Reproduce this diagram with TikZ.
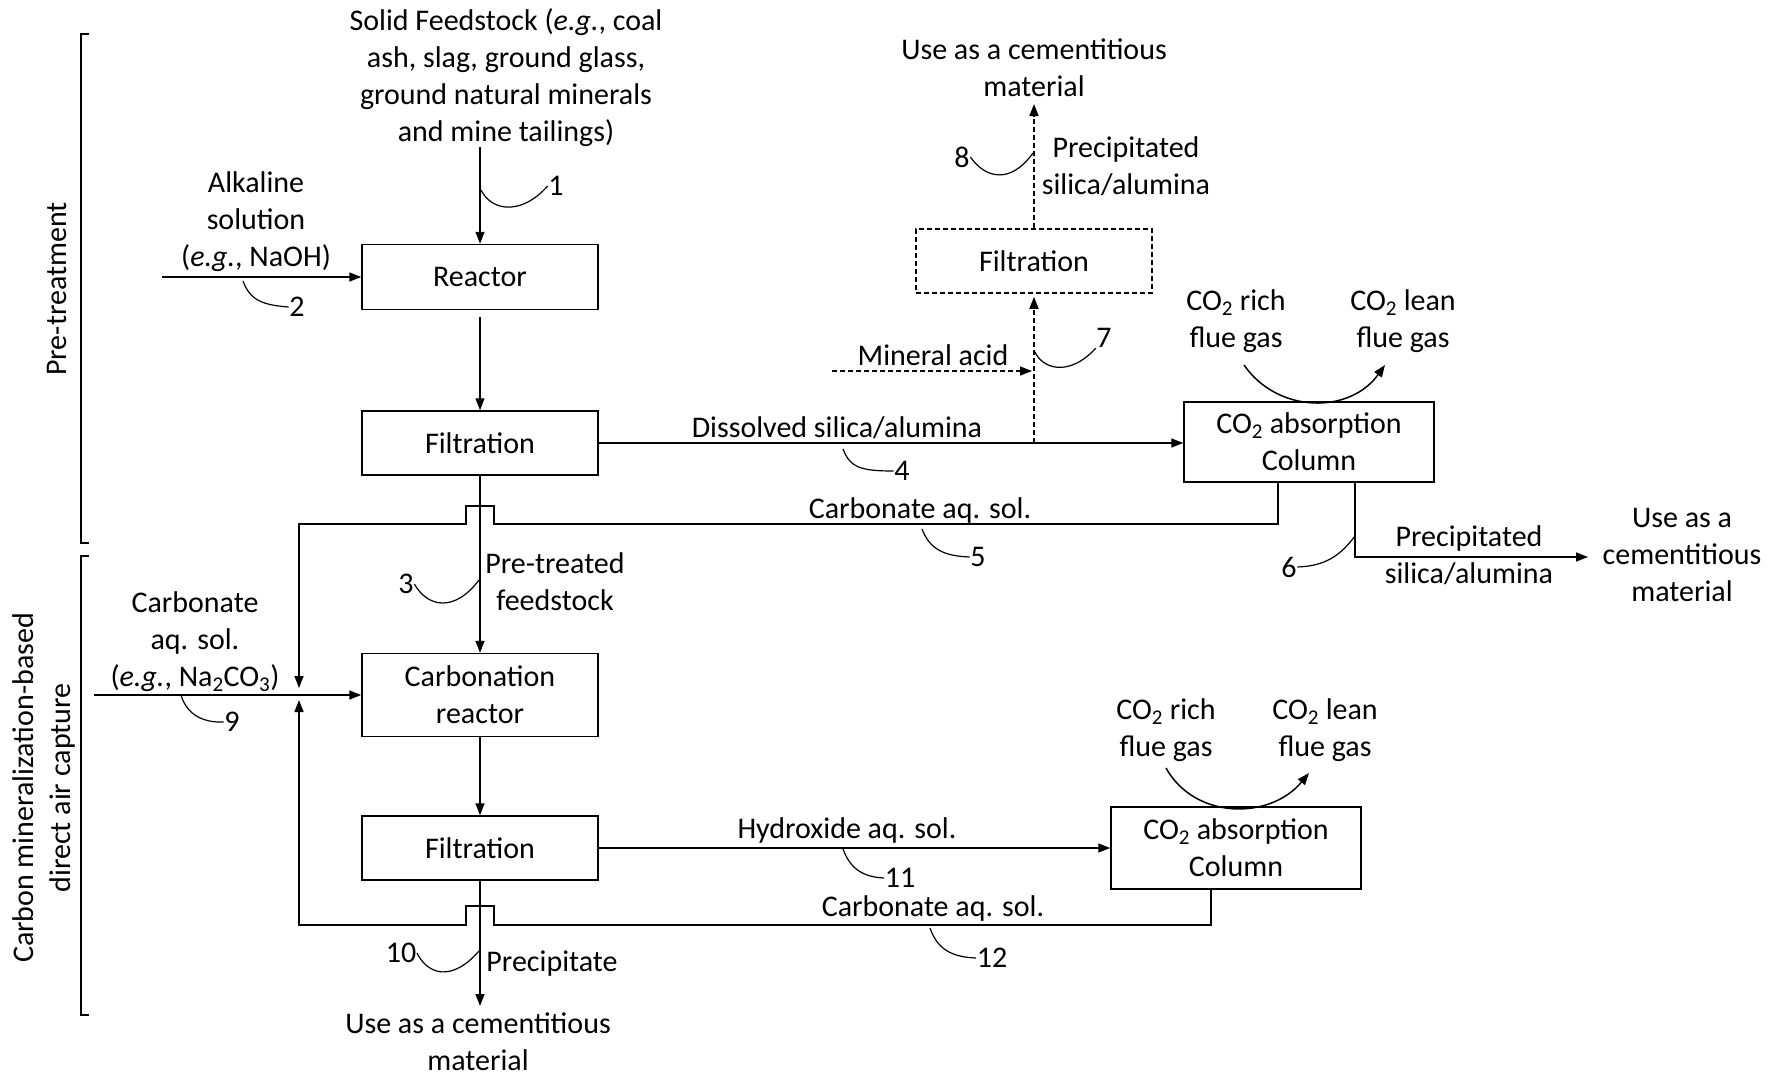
\documentclass[tikz,border=0pt]{standalone}
\usepackage{fontspec}
\setmainfont{Carlito}
\usetikzlibrary{arrows.meta,calc}
\begin{document}
\begin{tikzpicture}[x=1pt,y=-1pt, line width=1.5pt,
  every node/.style={font=\fontsize{30}{37}\selectfont},
  box/.style={draw, minimum width=236pt, inner sep=0pt, align=center},
  txt/.style={align=center, inner sep=0pt},
  num/.style={inner sep=0pt},
  arr/.style={-{Triangle[length=12pt,width=9pt]}},
  dashline/.style={dash pattern=on 5pt off 3pt},
  call/.style={line width=1.2pt}]
\useasboundingbox (0,0) rectangle (1775,1079);

% brackets and side labels
\draw (89,34) -- (81,34) -- (81,543) -- (89,543);
\draw (89,556) -- (81,556) -- (81,1015) -- (89,1015);
\node[txt, rotate=90] (pre) at (57,289) {Pre-treatment};
\node[txt, rotate=90] (cmb) at (44,788) {Carbon mineralization-based\\direct air capture};

% boxes
\node[box, minimum height=65pt] (reactor) at (480,277) {Reactor};
\node[box, minimum height=64pt] (filt1) at (480,443) {Filtration};
\node[box, minimum height=83pt] (carb) at (480,695) {Carbonation\\reactor};
\node[box, minimum height=64pt] (filt2) at (480,848) {Filtration};
\node[box, dashline, minimum height=64pt] (filt3) at (1034,261) {Filtration};
\node[box, minimum width=250pt, minimum height=80pt] (col1) at (1309,442) {CO\textsubscript{2} absorption\\Column};
\node[box, minimum width=250pt, minimum height=82pt] (col2) at (1236,848) {CO\textsubscript{2} absorption\\Column};

% texts
\node[txt] (feed) at (506,78) {Solid Feedstock (\textit{e.g.}, coal\\ash, slag, ground glass,\\ground natural minerals\\and mine tailings)};
\node[txt] (alk) at (256,222) {Alkaline\\solution\\(\textit{e.g.}, NaOH)};
\node[txt] (carbin) at (195,642) {Carbonate\\aq. sol.\\(\textit{e.g.}, Na\textsubscript{2}CO\textsubscript{3})};
\node[txt] (ptf) at (555,582) {Pre-treated\\feedstock};
\node[txt] (ppt) at (552,964) {Precipitate};
\node[txt] (usebot) at (478,1042) {Use as a cementitious\\material};
\node[txt] (usetop) at (1034,68) {Use as a cementitious\\material};
\node[txt] (pstop) at (1126,166) {Precipitated\\silica/alumina};
\node[txt] (macid) at (933,355) {Mineral acid};
\node[txt] (dsa) at (837,428) {Dissolved silica/alumina};
\node[txt] (rich1) at (1236,321) {CO\textsubscript{2} rich\\flue gas};
\node[txt] (lean1) at (1403,321) {CO\textsubscript{2} lean\\flue gas};
\node[txt] (cas1) at (920,510) {Carbonate aq. sol.};
\node[txt] (psr) at (1469,555) {Precipitated\\silica/alumina};
\node[txt] (user) at (1682,555) {Use as a\\cementitious\\material};
\node[txt] (hyd) at (847,830) {Hydroxide aq. sol.};
\node[txt] (cas2) at (933,908) {Carbonate aq. sol.};
\node[txt] (rich2) at (1166,730) {CO\textsubscript{2} rich\\flue gas};
\node[txt] (lean2) at (1325,730) {CO\textsubscript{2} lean\\flue gas};

% numbers
\node[num] (n1) at (556,186) {1};
\node[num] (n2) at (297,307) {2};
\node[num] (n3) at (406,584) {3};
\node[num] (n4) at (902,471) {4};
\node[num] (n5) at (978,557) {5};
\node[num] (n6) at (1289,567) {6};
\node[num] (n7) at (1104,338) {7};
\node[num] (n8) at (962,157) {8};
\node[num] (n9) at (232,722) {9};
\node[num] (n10) at (401,953) {10};
\node[num] (n11) at (900,878) {11};
\node[num] (n12) at (992,958) {12};

% connectors
\coordinate (feedend) at (480,147);
\draw[arr] (feedend) -- (reactor.north);
\coordinate (alkstart) at (162,277);
\draw[arr] (alkstart) -- (reactor.west);
\draw[arr, shorten <=7pt] (reactor.south) -- (filt1.north);
\draw[arr] (filt1.east) -- (filt1.east -| col1.west);
\coordinate (j7) at (filt3.south |- filt1.east);
\draw[arr, dashline, shorten >=3pt] (j7) -- (filt3.south);
\coordinate (acid) at (832,371);
\draw[arr, dashline, shorten >=2pt] (acid) -- (acid -| j7);
\coordinate (use8) at (1034,104);
\draw[arr, dashline] (filt3.north) -- (use8);

\coordinate (r1) at (1244,365);
\coordinate (l1) at (1385,365);
\draw[arr] (r1) .. controls (1278,414) and (1350,414) .. (l1);
\coordinate (r2) at (1166,768);
\coordinate (l2) at (1309,773);
\draw[arr] (r2) .. controls (1195,820) and (1270,820) .. (l2);

\coordinate (c5) at (1278,524);
\draw[arr] (c5 |- col1.south) -- (c5) -- (494,524) -- (494,506) -- (466,506) -- (466,524) -- (299,524) -- (299,688);
\coordinate (c6) at (1355,557);
\draw[arr] (c6 |- col1.south) -- (c6) -- (1588,557);

\draw[arr] (filt1.south) -- (carb.north);
\coordinate (in9) at (94,695);
\draw[arr] (in9) -- (carb.west);
\draw[arr] (carb.south) -- (filt2.north);
\draw[arr] (filt2.east) -- (filt2.east -| col2.west);
\coordinate (c12) at (1211,925);
\draw[arr] (c12 |- col2.south) -- (c12) -- (494,925) -- (494,906) -- (466,906) -- (466,925) -- (299,925) -- (299,700);
\coordinate (out10) at (480,1006);
\draw[arr] (filt2.south) -- (out10);

% callout leaders
\draw[call] (481,190) .. controls (492,212) and (522,215) .. (n1.west);
\draw[call] (243,281) .. controls (250,300) and (262,305) .. (n2.west);
\draw[call] (n3.east) .. controls (428,608) and (455,612) .. (479,580);
\draw[call] (843,449) .. controls (850,468) and (862,471) .. (n4.west);
\draw[call] (922,529) .. controls (930,550) and (945,556) .. (n5.west);
\draw[call] (n6.east) .. controls (1325,566) and (1340,556) .. (1355,536);
\draw[call] (1035,352) .. controls (1042,368) and (1068,378) .. (n7.south west);
\draw[call] (n8.east) .. controls (985,178) and (1010,185) .. (1033,153);
\draw[call] (181,695) .. controls (186,712) and (200,723) .. (n9.west);
\draw[call] (n10.east) .. controls (428,975) and (452,982) .. (479,951);
\draw[call] (843,849) .. controls (850,868) and (862,877) .. (n11.west);
\draw[call] (930,928) .. controls (937,948) and (950,957) .. (n12.west);
\end{tikzpicture}
\end{document}
